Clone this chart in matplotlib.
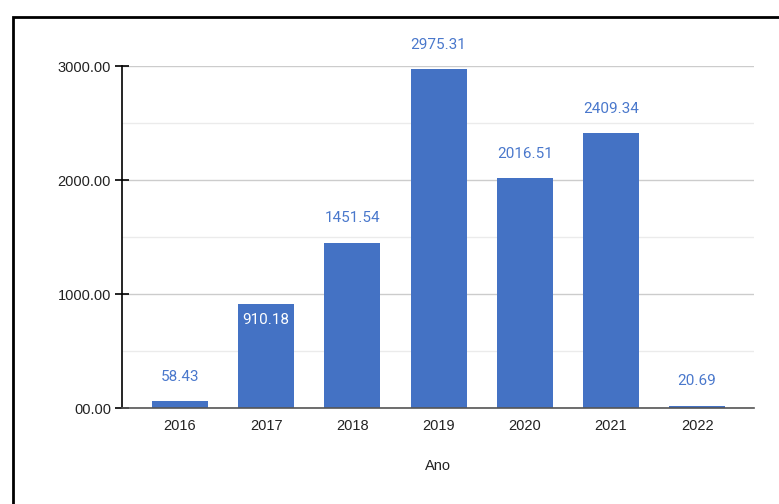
import matplotlib
matplotlib.use("Agg")
import matplotlib.pyplot as plt
from matplotlib.patches import Rectangle
from matplotlib.ticker import MultipleLocator

plt.rcParams['font.family'] = ['Liberation Sans', 'DejaVu Sans']

years = ["2016", "2017", "2018", "2019", "2020", "2021", "2022"]
values = [58.43, 910.18, 1451.54, 2975.31, 2016.51, 2409.34, 20.69]
inside_labels = ["2017"]
y_ticks = [0, 1000, 2000, 3000]
y_tick_labels = ["00.00", "1000.00", "2000.00", "3000.00"]

bar_color = "#4472C4"
value_color = "#4a78cc"
label_font = ['Roboto', 'DejaVu Sans']
W, H = 779, 504
fig = plt.figure(figsize=(W / 100, H / 100), dpi=100)
ax = fig.add_axes([122 / W, 1 - 408 / H, (754 - 122) / W, (408 - 66) / H])

x = list(range(len(years)))
bars = ax.bar(x, values, width=0.65, color=bar_color, zorder=3)

ax.set_xlim(-0.673, 6.66)
ax.set_ylim(0, 3000)
ax.set_xticks(x)
ax.set_xticklabels(years)
ax.set_yticks(y_ticks)
ax.set_yticklabels(y_tick_labels)
ax.yaxis.set_minor_locator(MultipleLocator(500))

ax.grid(axis="y", which="major", color="#cccccc", linewidth=1.0, zorder=0)
ax.grid(axis="y", which="minor", color="#ebebeb", linewidth=1.0, zorder=0)

for s in ["top", "right"]:
    ax.spines[s].set_visible(False)
ax.spines["left"].set_color("black")
ax.spines["left"].set_linewidth(1.2)
ax.spines["bottom"].set_color("#555555")
ax.spines["bottom"].set_linewidth(1.2)
ax.spines["bottom"].set_zorder(4)

ax.tick_params(axis="y", which="major", direction="inout", length=10, width=1.2,
               color="black", labelsize=10.5, labelcolor="#222222", pad=3)
ax.tick_params(axis="y", which="minor", length=0)
ax.tick_params(axis="x", length=0, labelsize=10.5, labelcolor="#222222", pad=8)

ax.set_xlabel("Ano", fontsize=10.5, color="#222222", labelpad=19)

for xi, yr, v in zip(x, years, values):
    if yr in inside_labels:
        ax.annotate(f"{v:.2f}", (xi, v), xytext=(0, -11.5), textcoords="offset points",
                    ha="center", va="center", color="white", fontsize=11,
                    family=label_font, zorder=5, annotation_clip=False)
    else:
        ax.annotate(f"{v:.2f}", (xi, v), xytext=(0, 17.5), textcoords="offset points",
                    ha="center", va="center", color=value_color, fontsize=11,
                    family=label_font, zorder=5, annotation_clip=False)

# frame around the chart area
fig.patches.append(Rectangle((12.5 / W, -0.1), 1.2, 1 - 16.5 / H + 0.1,
                             transform=fig.transFigure, fill=False,
                             edgecolor="black", linewidth=2.0))

fig.savefig("out.png", dpi=100, facecolor="white")
